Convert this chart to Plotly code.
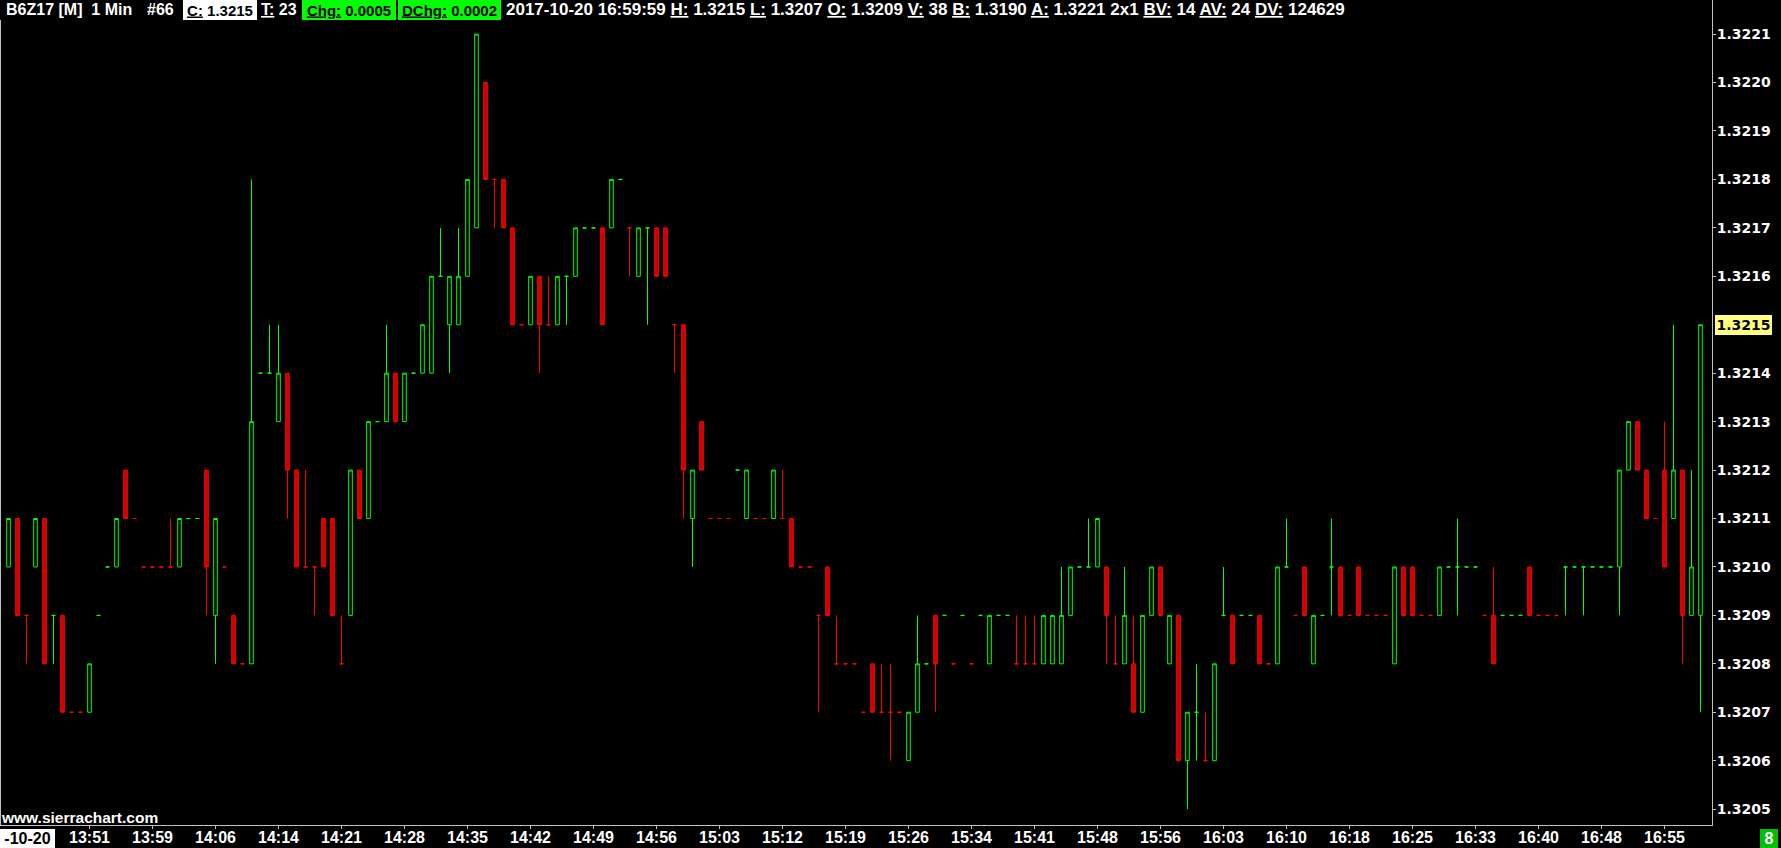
import plotly.graph_objects as go

# ---------------- data (B6Z17, 1 Min bars) ----------------
opens = [
    1.3210, 1.3211, 1.3209, 1.3210, 1.3211, 1.3209, 1.3209, 1.3207, 1.3207, 1.3207,
    1.3209, 1.3210, 1.3210, 1.3212, 1.3211, 1.3210, 1.3210, 1.3210, 1.3210, 1.3210,
    1.3211, 1.3211, 1.3212, 1.3209, 1.3210, 1.3209, 1.3208, 1.3208, 1.3214, 1.3214,
    1.3213, 1.3214, 1.3212, 1.3210, 1.3210, 1.3211, 1.3211, 1.3208, 1.3209, 1.3212,
    1.3211, 1.3213, 1.3213, 1.3214, 1.3213, 1.3214, 1.3214, 1.3214, 1.3216, 1.3215,
    1.3215, 1.3216, 1.3217, 1.3220, 1.3218, 1.3218, 1.3217, 1.3215, 1.3215, 1.3216,
    1.3215, 1.3215, 1.3216, 1.3216, 1.3217, 1.3217, 1.3217, 1.3217, 1.3218, 1.3217,
    1.3216, 1.3217, 1.3217, 1.3217, 1.3215, 1.3215, 1.3211, 1.3213, 1.3211, 1.3211,
    1.3211, 1.3212, 1.3211, 1.3211, 1.3211, 1.3211, 1.3211, 1.3211, 1.3210, 1.3210,
    1.3209, 1.3210, 1.3208, 1.3208, 1.3208, 1.3207, 1.3208, 1.3207, 1.3207, 1.3207,
    1.3206, 1.3207, 1.3208, 1.3209, 1.3209, 1.3208, 1.3209, 1.3208, 1.3209, 1.3208,
    1.3209, 1.3209, 1.3208, 1.3208, 1.3208, 1.3208, 1.3208, 1.3208, 1.3209, 1.3210,
    1.3210, 1.3210, 1.3210, 1.3208, 1.3208, 1.3208, 1.3207, 1.3209, 1.3210, 1.3208,
    1.3209, 1.3206, 1.3207, 1.3206, 1.3206, 1.3209, 1.3209, 1.3209, 1.3209, 1.3209,
    1.3208, 1.3208, 1.3210, 1.3209, 1.3210, 1.3208, 1.3209, 1.3210, 1.3210, 1.3209,
    1.3210, 1.3209, 1.3209, 1.3209, 1.3208, 1.3210, 1.3210, 1.3209, 1.3209, 1.3209,
    1.3210, 1.3210, 1.3210, 1.3210, 1.3209, 1.3209, 1.3209, 1.3209, 1.3209, 1.3210,
    1.3209, 1.3209, 1.3209, 1.3210, 1.3210, 1.3210, 1.3210, 1.3210, 1.3210, 1.3210,
    1.3212, 1.3213, 1.3212, 1.3211, 1.3212, 1.3211, 1.3212, 1.3209, 1.3209,
]
highs = [
    1.3211, 1.3211, 1.3209, 1.3211, 1.3211, 1.3209, 1.3209, 1.3207, 1.3207, 1.3208,
    1.3209, 1.3210, 1.3211, 1.3212, 1.3211, 1.3210, 1.3210, 1.3210, 1.3211, 1.3211,
    1.3211, 1.3211, 1.3212, 1.3211, 1.3210, 1.3209, 1.3208, 1.3218, 1.3214, 1.3215,
    1.3215, 1.3214, 1.3212, 1.3212, 1.3210, 1.3211, 1.3211, 1.3209, 1.3212, 1.3212,
    1.3213, 1.3213, 1.3215, 1.3214, 1.3214, 1.3214, 1.3215, 1.3216, 1.3217, 1.3216,
    1.3217, 1.3218, 1.3221, 1.3220, 1.3218, 1.3218, 1.3217, 1.3215, 1.3216, 1.3216,
    1.3216, 1.3216, 1.3216, 1.3217, 1.3217, 1.3217, 1.3217, 1.3218, 1.3218, 1.3217,
    1.3217, 1.3217, 1.3217, 1.3217, 1.3215, 1.3215, 1.3212, 1.3213, 1.3211, 1.3211,
    1.3211, 1.3212, 1.3212, 1.3211, 1.3211, 1.3212, 1.3212, 1.3211, 1.3210, 1.3210,
    1.3209, 1.3210, 1.3209, 1.3208, 1.3208, 1.3207, 1.3208, 1.3208, 1.3208, 1.3207,
    1.3207, 1.3209, 1.3208, 1.3209, 1.3209, 1.3208, 1.3209, 1.3208, 1.3209, 1.3209,
    1.3209, 1.3209, 1.3209, 1.3209, 1.3209, 1.3209, 1.3209, 1.3210, 1.3210, 1.3210,
    1.3211, 1.3211, 1.3210, 1.3209, 1.3210, 1.3209, 1.3209, 1.3210, 1.3210, 1.3209,
    1.3209, 1.3207, 1.3208, 1.3207, 1.3208, 1.3210, 1.3209, 1.3209, 1.3209, 1.3209,
    1.3208, 1.3210, 1.3211, 1.3209, 1.3210, 1.3209, 1.3209, 1.3211, 1.3210, 1.3209,
    1.3210, 1.3209, 1.3209, 1.3209, 1.3210, 1.3210, 1.3210, 1.3209, 1.3209, 1.3210,
    1.3210, 1.3211, 1.3210, 1.3210, 1.3209, 1.3210, 1.3209, 1.3209, 1.3209, 1.3210,
    1.3209, 1.3209, 1.3209, 1.3210, 1.3210, 1.3210, 1.3210, 1.3210, 1.3210, 1.3212,
    1.3213, 1.3213, 1.3212, 1.3211, 1.3213, 1.3215, 1.3212, 1.3212, 1.3215,
]
lows = [
    1.3210, 1.3209, 1.3208, 1.3210, 1.3208, 1.3208, 1.3207, 1.3207, 1.3207, 1.3207,
    1.3209, 1.3210, 1.3210, 1.3211, 1.3211, 1.3210, 1.3210, 1.3210, 1.3210, 1.3210,
    1.3211, 1.3211, 1.3209, 1.3208, 1.3210, 1.3208, 1.3208, 1.3208, 1.3214, 1.3214,
    1.3213, 1.3211, 1.3210, 1.3210, 1.3209, 1.3210, 1.3209, 1.3208, 1.3209, 1.3211,
    1.3211, 1.3213, 1.3213, 1.3213, 1.3213, 1.3214, 1.3214, 1.3214, 1.3216, 1.3214,
    1.3215, 1.3216, 1.3217, 1.3218, 1.3217, 1.3217, 1.3215, 1.3215, 1.3215, 1.3214,
    1.3215, 1.3215, 1.3215, 1.3216, 1.3217, 1.3217, 1.3215, 1.3217, 1.3218, 1.3216,
    1.3216, 1.3215, 1.3216, 1.3216, 1.3214, 1.3211, 1.3210, 1.3212, 1.3211, 1.3211,
    1.3211, 1.3212, 1.3211, 1.3211, 1.3211, 1.3211, 1.3211, 1.3210, 1.3210, 1.3210,
    1.3207, 1.3209, 1.3208, 1.3208, 1.3208, 1.3207, 1.3207, 1.3207, 1.3206, 1.3207,
    1.3206, 1.3207, 1.3208, 1.3207, 1.3209, 1.3208, 1.3209, 1.3208, 1.3209, 1.3208,
    1.3209, 1.3209, 1.3208, 1.3208, 1.3208, 1.3208, 1.3208, 1.3208, 1.3209, 1.3210,
    1.3210, 1.3210, 1.3208, 1.3208, 1.3208, 1.3207, 1.3207, 1.3209, 1.3209, 1.3208,
    1.3206, 1.3205, 1.3206, 1.3206, 1.3206, 1.3209, 1.3208, 1.3209, 1.3209, 1.3208,
    1.3208, 1.3208, 1.3210, 1.3209, 1.3209, 1.3208, 1.3209, 1.3209, 1.3209, 1.3209,
    1.3209, 1.3209, 1.3209, 1.3209, 1.3208, 1.3209, 1.3209, 1.3209, 1.3209, 1.3209,
    1.3210, 1.3209, 1.3210, 1.3210, 1.3209, 1.3208, 1.3209, 1.3209, 1.3209, 1.3209,
    1.3209, 1.3209, 1.3209, 1.3209, 1.3210, 1.3209, 1.3210, 1.3210, 1.3210, 1.3209,
    1.3212, 1.3212, 1.3211, 1.3211, 1.3210, 1.3211, 1.3208, 1.3209, 1.3207,
]
closes = [
    1.3211, 1.3209, 1.3209, 1.3211, 1.3208, 1.3209, 1.3207, 1.3207, 1.3207, 1.3208,
    1.3209, 1.3210, 1.3211, 1.3211, 1.3211, 1.3210, 1.3210, 1.3210, 1.3210, 1.3211,
    1.3211, 1.3211, 1.3210, 1.3211, 1.3210, 1.3208, 1.3208, 1.3213, 1.3214, 1.3214,
    1.3214, 1.3212, 1.3210, 1.3210, 1.3210, 1.3210, 1.3209, 1.3208, 1.3212, 1.3211,
    1.3213, 1.3213, 1.3214, 1.3213, 1.3214, 1.3214, 1.3215, 1.3216, 1.3216, 1.3216,
    1.3216, 1.3218, 1.3221, 1.3218, 1.3218, 1.3217, 1.3215, 1.3215, 1.3216, 1.3215,
    1.3215, 1.3216, 1.3216, 1.3217, 1.3217, 1.3217, 1.3215, 1.3218, 1.3218, 1.3217,
    1.3217, 1.3217, 1.3216, 1.3216, 1.3215, 1.3212, 1.3212, 1.3212, 1.3211, 1.3211,
    1.3211, 1.3212, 1.3212, 1.3211, 1.3211, 1.3212, 1.3211, 1.3210, 1.3210, 1.3210,
    1.3209, 1.3209, 1.3208, 1.3208, 1.3208, 1.3207, 1.3207, 1.3207, 1.3207, 1.3207,
    1.3207, 1.3208, 1.3208, 1.3208, 1.3209, 1.3208, 1.3209, 1.3208, 1.3209, 1.3209,
    1.3209, 1.3209, 1.3208, 1.3208, 1.3208, 1.3209, 1.3209, 1.3209, 1.3210, 1.3210,
    1.3210, 1.3211, 1.3209, 1.3208, 1.3209, 1.3207, 1.3209, 1.3210, 1.3209, 1.3209,
    1.3206, 1.3207, 1.3207, 1.3206, 1.3208, 1.3209, 1.3208, 1.3209, 1.3209, 1.3208,
    1.3208, 1.3210, 1.3210, 1.3209, 1.3209, 1.3209, 1.3209, 1.3210, 1.3209, 1.3209,
    1.3209, 1.3209, 1.3209, 1.3209, 1.3210, 1.3209, 1.3209, 1.3209, 1.3209, 1.3210,
    1.3210, 1.3210, 1.3210, 1.3210, 1.3209, 1.3208, 1.3209, 1.3209, 1.3209, 1.3209,
    1.3209, 1.3209, 1.3209, 1.3210, 1.3210, 1.3210, 1.3210, 1.3210, 1.3210, 1.3212,
    1.3213, 1.3212, 1.3211, 1.3211, 1.3210, 1.3212, 1.3209, 1.3210, 1.3215,
]
# bar colour as drawn by the chart (G = up/green, R = down/red)
bar_dirs = list(
    "GRRGRGRRRG" "GGGRRRRRRG" "GGRGRRRGGG" "GRRRRRRRGR" "GGGRGGGGGG"
    "GGGRRRRRGR" "RGGGGGRGGR" "GGRRRRGRRR" "RGGRRGRRRR" "RRRRRRRRRR"
    "GGGRGRGRGG" "GGRRRGGGGG" "GGRRGRGGRG" "RGGRGGRGGR" "RGGRRGGGRR"
    "RRRRGRRRRG" "GGGGRRGGGR" "RRRGGGGGGG" "GRRRRGRGG"
)
time_tick_bars = [9 + 7 * k for k in range(26)]
time_tick_text = [
    "13:51", "13:59", "14:06", "14:14", "14:21", "14:28", "14:35", "14:42",
    "14:49", "14:56", "15:03", "15:12", "15:19", "15:26", "15:34", "15:41",
    "15:48", "15:56", "16:03", "16:10", "16:18", "16:25", "16:33", "16:40",
    "16:48", "16:55",
]
price_ticks = [1.3205 + 0.0001 * k for k in range(17)]
last_price = 1.3215

# ---------------- figure ----------------
W, H = 1781, 848
PL, PR, PT, PB = 0, 1712, 0, 825     # plot area in pixels


def px(x):
    return (x - PL) / (PR - PL)


def py(y):
    return (PB - y) / (PB - PT)


fig = go.Figure()
styles = {
    "G": dict(line="#00FF00", fill="#000000"),
    "R": dict(line="#FF0000", fill="#C80000"),
}
for d, st in styles.items():
    idx = [i for i, c in enumerate(bar_dirs) if c == d]
    side = dict(line=dict(color=st["line"], width=1), fillcolor=st["fill"])
    fig.add_trace(go.Candlestick(
        x=idx,
        open=[opens[i] for i in idx],
        high=[highs[i] for i in idx],
        low=[lows[i] for i in idx],
        close=[closes[i] for i in idx],
        increasing=side, decreasing=side,
        whiskerwidth=0, hoverinfo="skip", showlegend=False,
    ))

axis_grey = "#C0C0C0"
show_vals = [v for v in price_ticks if abs(v - last_price) > 1e-7]
show_text = ["%.4f" % v for v in show_vals]

fig.update_layout(
    width=W, height=H,
    margin=dict(l=PL, r=W - PR, t=PT, b=H - PB, pad=0),
    paper_bgcolor="#000000", plot_bgcolor="#000000",
    showlegend=False,
    boxmode="overlay", boxgap=0.6, boxgroupgap=0,
    xaxis=dict(
        range=[-8.5 / 9, (PR - 8.5) / 9],
        rangeslider=dict(visible=False),
        showgrid=False, zeroline=False, automargin=False,
        showline=True, linecolor=axis_grey, linewidth=1,
        ticks="outside", ticklen=3, tickcolor=axis_grey,
        ticklabelstandoff=-5,
        tickvals=time_tick_bars, ticktext=time_tick_text,
        tickfont=dict(family="Liberation Sans, Arial, sans-serif", size=16,
                      color="#FFFFFF", weight="bold"),
    ),
    yaxis=dict(
        side="right",
        range=[1.3221 - (PB - 34.1) / 484400, 1.3221 + 34.1 / 484400],
        showgrid=False, zeroline=False, automargin=False,
        showline=True, linecolor=axis_grey, linewidth=1,
        ticks="outside", ticklen=3, tickcolor=axis_grey,
        ticklabelstandoff=-2,
        tickvals=show_vals, ticktext=show_text,
        tickfont=dict(family="DejaVu Sans, Verdana, sans-serif", size=14,
                      color="#FFFFFF", weight="bold"),
    ),
)

# left border line
fig.add_shape(type="line", xref="paper", yref="paper", x0=0.0003, x1=0.0003,
              y0=0, y1=py(20), line=dict(color=axis_grey, width=1))

hdr_font = dict(family="Liberation Sans, Arial, sans-serif", size=17,
                color="#FFFFFF", weight="bold")
box_font = dict(hdr_font, size=15, color="#000000")
HY = py(10)


def ann(text, x, y, font, xanchor="left", bg=None, width=None, height=None, yref="paper"):
    kw = dict(text=text, x=x, y=y, xref="paper", yref=yref, showarrow=False,
              xanchor=xanchor, yanchor="middle", font=font, borderpad=0,
              borderwidth=0)
    if bg:
        kw["bgcolor"] = bg
    if width:
        kw["width"] = width
        kw["align"] = "center"
    if height:
        kw["height"] = height
    fig.add_annotation(**kw)


ann("B6Z17 [M]&nbsp; 1 Min", px(6), HY, dict(hdr_font, size=16))
ann("#66", px(147), HY, dict(hdr_font, size=16))
ann("<u>C:</u> 1.3215", px(183), HY, box_font, bg="#FFFFFF", width=74, height=20)
ann("<u>T:</u> 23", px(261), HY, dict(hdr_font, size=16))
ann("<u>Chg:</u> 0.0005", px(302), HY, box_font, bg="#00FF00", width=94, height=20)
ann("<u>DChg:</u> 0.0002", px(398), HY, box_font, bg="#00FF00", width=103, height=20)
ann("2017-10-20 16:59:59 <u>H:</u> 1.3215 <u>L:</u> 1.3207 <u>O:</u> 1.3209 "
    "<u>V:</u> 38 <u>B:</u> 1.3190 <u>A:</u> 1.3221 2x1 <u>BV:</u> 14 "
    "<u>AV:</u> 24 <u>DV:</u> 124629", px(506), HY, hdr_font)

# last price marker on the price scale
ann("%.4f" % last_price, px(1715), last_price,
    dict(family="DejaVu Sans, Verdana, sans-serif", size=14, color="#000000", weight="bold"),
    bg="#FFFF80", width=57, height=20, yref="y")

# watermark
ann("www.sierrachart.com", px(1), py(817),
    dict(family="Liberation Sans, Arial, sans-serif", size=15.5, color="#FFFFFF", weight="bold"))

# date box at bottom-left
ann("-10-20", px(0), py(838), dict(hdr_font, size=16, color="#000000"),
    bg="#FFFFFF", width=55, height=19)

# bottom-right counter box
ann("8", px(1760), py(838), dict(hdr_font, size=16), bg="#00C000", width=18, height=19)

fig.write_html(
    "out.html",
    config={"displayModeBar": False},
    post_script="document.body.style.margin='0px';document.body.style.overflow='hidden';",
)
